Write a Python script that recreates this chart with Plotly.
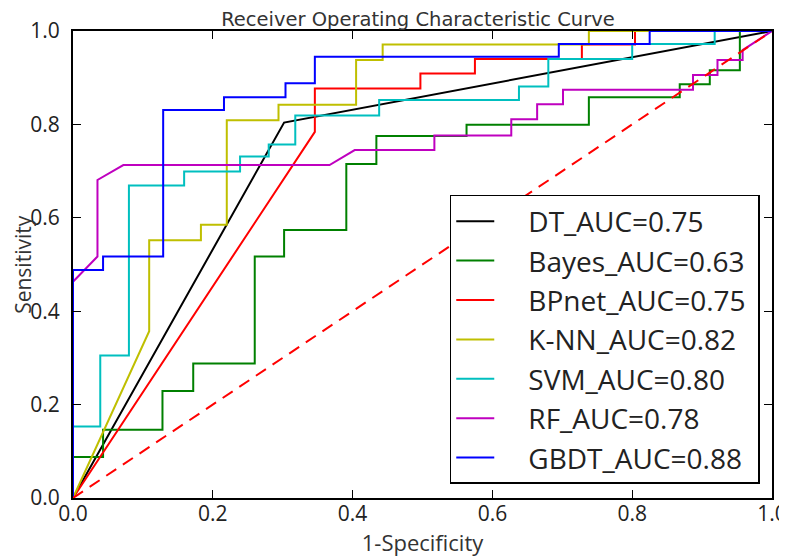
import plotly.graph_objects as go

# ROC data (false-positive rate, true-positive rate)
dt_fpr = [0.0, 0.302, 1.0]
dt_tpr = [0.0, 0.804, 1.0]

bayes_fpr = [0.0, 0.0, 0.043, 0.043, 0.128, 0.128, 0.172, 0.172, 0.260, 0.260, 0.302, 0.302,
             0.391, 0.391, 0.434, 0.434, 0.563, 0.563, 0.738, 0.738, 0.868, 0.868, 0.911, 0.911,
             0.954, 0.954, 1.0]
bayes_tpr = [0.0, 0.088, 0.088, 0.146, 0.146, 0.229, 0.229, 0.288, 0.288, 0.517, 0.517, 0.574,
             0.574, 0.715, 0.715, 0.775, 0.775, 0.799, 0.799, 0.858, 0.858, 0.886, 0.886, 0.916,
             0.916, 1.0, 1.0]

bp_fpr = [0.0, 0.346, 0.346, 0.497, 0.497, 0.575, 0.575, 0.728, 0.728, 0.804, 0.804, 1.0]
bp_tpr = [0.0, 0.784, 0.877, 0.877, 0.909, 0.909, 0.940, 0.940, 0.971, 0.971, 1.0, 1.0]

knn_fpr = [0.0, 0.109, 0.109, 0.183, 0.183, 0.220, 0.220, 0.294, 0.294, 0.405, 0.405, 0.443,
           0.443, 0.738, 0.738, 1.0]
knn_tpr = [0.0, 0.357, 0.552, 0.552, 0.585, 0.585, 0.809, 0.809, 0.842, 0.842, 0.938, 0.938,
           0.971, 0.971, 1.0, 1.0]

svm_fpr = [0.0, 0.0, 0.039, 0.039, 0.080, 0.080, 0.159, 0.159, 0.239, 0.239, 0.280, 0.280,
           0.318, 0.318, 0.438, 0.438, 0.638, 0.638, 0.680, 0.680, 0.800, 0.800, 0.918, 0.918, 1.0]
svm_tpr = [0.0, 0.153, 0.153, 0.305, 0.305, 0.669, 0.669, 0.699, 0.699, 0.731, 0.731, 0.757,
           0.757, 0.819, 0.819, 0.852, 0.852, 0.881, 0.881, 0.940, 0.940, 0.972, 0.972, 1.0, 1.0]

rf_fpr = [0.0, 0.0, 0.035, 0.035, 0.072, 0.367, 0.403, 0.517, 0.517, 0.627, 0.627, 0.664,
          0.664, 0.701, 0.701, 0.887, 0.887, 0.922, 0.922, 0.958, 0.958, 1.0]
rf_tpr = [0.0, 0.463, 0.517, 0.681, 0.713, 0.713, 0.745, 0.745, 0.776, 0.776, 0.811, 0.811,
          0.843, 0.843, 0.874, 0.874, 0.906, 0.906, 0.938, 0.938, 0.959, 1.0]

gbdt_fpr = [0.0, 0.0, 0.043, 0.043, 0.129, 0.129, 0.216, 0.216, 0.304, 0.304, 0.346, 0.346,
            0.695, 0.695, 0.825, 0.825, 1.0]
gbdt_tpr = [0.0, 0.488, 0.488, 0.517, 0.517, 0.831, 0.831, 0.858, 0.858, 0.888, 0.888, 0.945,
            0.945, 0.972, 0.972, 1.0, 1.0]

chance_x = [0.0, 1.0]
chance_y = [0.0, 1.0]

names = ["DT_AUC=0.75", "Bayes_AUC=0.63", "BPnet_AUC=0.75", "K-NN_AUC=0.82",
         "SVM_AUC=0.80", "RF_AUC=0.78", "GBDT_AUC=0.88"]
colors = ["#000000", "#008000", "#ff0000", "#bfbf00", "#00bfbf", "#bf00bf", "#0000ff"]
xs = [dt_fpr, bayes_fpr, bp_fpr, knn_fpr, svm_fpr, rf_fpr, gbdt_fpr]
ys = [dt_tpr, bayes_tpr, bp_tpr, knn_tpr, svm_tpr, rf_tpr, gbdt_tpr]

tick_vals = [0.0, 0.2, 0.4, 0.6, 0.8, 1.0]
tick_text = ["0.0", "0.2", "0.4", "0.6", "0.8", "1.0"]

title_text = "Receiver Operating Characteristic Curve"
x_title = "1-Specificity"
y_title = "Sensitivity"

FONT = "Open Sans"
PAD = "\u00a0\u00a0\u00a0\u00a0"
fig = go.Figure()
for i, (n, c, x, y) in enumerate(zip(names, colors, xs, ys)):
    fig.add_trace(go.Scatter(x=x, y=y, mode="lines", name=PAD + n + "\u00a0",
                             legendgroup=str(i), line=dict(color=c, width=2)))
fig.add_trace(go.Scatter(x=chance_x, y=chance_y, mode="lines", showlegend=False,
                         line=dict(color="#ff0000", width=2, dash="12px,8px")))

axis_common = dict(range=[0, 1], tickvals=tick_vals, ticktext=tick_text, showgrid=False,
                   zeroline=False, showline=True, linecolor="#000000", linewidth=2,
                   mirror="allticks", ticks="inside", ticklen=8, tickwidth=1.2,
                   automargin=False,
                   tickcolor="#000000", tickfont=dict(family=FONT, size=21, color="#222222"))
fig.update_xaxes(**axis_common, ticklabelstandoff=-4,
                 title=dict(text=x_title, standoff=0,
                            font=dict(family=FONT, size=22, color="#333333")))
fig.update_yaxes(**axis_common, ticklabelstandoff=7)

fig.add_annotation(text=y_title, xref="paper", yref="paper", x=-0.0725, y=0.5,
                   xanchor="center", yanchor="middle", textangle=-90, showarrow=False,
                   font=dict(family=FONT, size=21, color="#333333"))

fig.update_layout(
    width=779, height=549,
    margin=dict(l=65, r=15, t=23, b=59),
    paper_bgcolor="white", plot_bgcolor="white",
    title=dict(text=title_text, x=0.5263, xanchor="center",
               y=0.9792, yanchor="middle",
               font=dict(family="DejaVu Sans", size=19.5, color="#333333")),
    legend=dict(x=0.539, y=0.03, xanchor="left", yanchor="bottom",
                bordercolor="#000000", borderwidth=1.5, bgcolor="white",
                font=dict(family=FONT, size=28, color="#222222"),
                tracegroupgap=0, itemwidth=38),
)
fig.write_html("out.html")
